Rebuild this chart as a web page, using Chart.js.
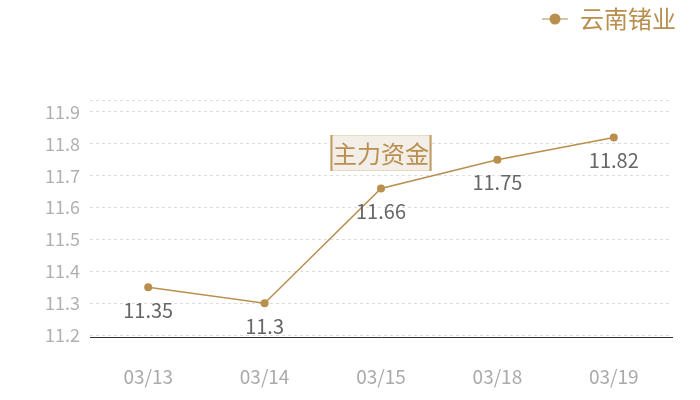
<!DOCTYPE html>
<html>
<head>
<meta charset="utf-8">
<script src="https://cdn.jsdelivr.net/npm/chart.js@4/dist/chart.umd.min.js"></script>
<style>
  html, body { margin: 0; padding: 0; background: #fff; }
  #wrap { width: 700px; height: 400px; position: relative; }
</style>
</head>
<body>
<div id="wrap"><canvas id="fundChart"></canvas></div>
<script>
// Chart data
const categories = ['03/13', '03/14', '03/15', '03/18', '03/19'];
const stockValues = [11.35, 11.3, 11.66, 11.75, 11.82];
const yTickValues = [11.2, 11.3, 11.4, 11.5, 11.6, 11.7, 11.8, 11.9];
const seriesName = '云南锗业';
const chartTitle = '主力资金';

const gold = '#b98f4e';
const fontFamily = '"Noto Sans CJK SC", "Noto Sans", sans-serif';

/**
 * Legend marker: short line with a dot in the middle
 */
function makeLegendMarker() {
    const c = document.createElement('canvas');
    c.width = 26;
    c.height = 14;
    const g = c.getContext('2d');
    g.strokeStyle = '#cdb084';
    g.lineWidth = 1.5;
    g.beginPath();
    g.moveTo(0, 7);
    g.lineTo(26, 7);
    g.stroke();
    g.fillStyle = gold;
    g.beginPath();
    g.arc(13, 7, 5.5, 0, Math.PI * 2);
    g.fill();
    return c;
}

/**
 * Leave an empty band under the legend and push it to the right edge
 */
const legendGap = {
    id: 'legendGap',
    beforeInit(chart) {
        const fit = chart.legend.fit;
        chart.legend.fit = function() {
            fit.call(this);
            this.height += 60;
        };
    },
    afterLayout(chart) {
        chart.legend.left += 10;
        chart.legend.right += 10;
        chart.legend.top += 1;
    }
};

/**
 * Value labels under each point
 */
const valueLabels = {
    id: 'valueLabels',
    afterDatasetsDraw(chart) {
        const ctx = chart.ctx;
        const meta = chart.getDatasetMeta(0);
        ctx.save();
        ctx.font = '20px ' + fontFamily;
        ctx.fillStyle = '#666';
        ctx.textAlign = 'center';
        ctx.textBaseline = 'middle';
        meta.data.forEach((pt, i) => {
            ctx.fillText(String(stockValues[i]), pt.x, pt.y + 23);
        });
        ctx.restore();
    }
};

/**
 * Boxed title in the plot area
 */
const boxTitle = {
    id: 'boxTitle',
    beforeDatasetsDraw(chart) {
        const ctx = chart.ctx;
        const area = chart.chartArea;
        const cx = (area.left + area.right) / 2;
        const top = area.top + 35;
        const w = 101, h = 36;
        const left = cx - w / 2;
        ctx.save();
        ctx.fillStyle = '#f3eee8';
        ctx.fillRect(left, top, w, h);
        ctx.strokeStyle = '#e6d9c6';
        ctx.lineWidth = 1;
        ctx.strokeRect(left + 0.5, top + 0.5, w - 1, h - 1);
        ctx.fillStyle = '#c19d62';
        ctx.fillRect(left, top, 2, h);
        ctx.fillRect(left + w - 2, top, 2, h);
        ctx.font = '24px ' + fontFamily;
        ctx.fillStyle = gold;
        ctx.textAlign = 'center';
        ctx.textBaseline = 'middle';
        ctx.fillText(chartTitle, cx, top + h / 2 + 1);
        ctx.restore();
    }
};

const yMin = 11.194;
const yMax = 11.9375;

new Chart(document.getElementById('fundChart'), {
    type: 'line',
    data: {
        labels: categories,
        datasets: [{
            label: seriesName,
            data: stockValues,
            borderColor: gold,
            backgroundColor: gold,
            borderWidth: 1.5,
            pointRadius: 4,
            pointHoverRadius: 4,
            pointBackgroundColor: gold,
            pointBorderWidth: 0,
            tension: 0
        }]
    },
    options: {
        responsive: true,
        maintainAspectRatio: false,
        animation: false,
        layout: {
            padding: { top: 0, right: 28, bottom: 0, left: 0 }
        },
        plugins: {
            legend: {
                position: 'top',
                align: 'end',
                labels: {
                    usePointStyle: true,
                    pointStyleWidth: 26,
                    padding: 6,
                    color: gold,
                    font: { family: fontFamily, size: 24 },
                    generateLabels: function(chart) {
                        return [{
                            text: seriesName,
                            fontColor: gold,
                            pointStyle: makeLegendMarker(),
                            strokeStyle: gold,
                            fillStyle: gold,
                            lineWidth: 0,
                            datasetIndex: 0
                        }];
                    }
                }
            },
            tooltip: { enabled: false }
        },
        scales: {
            x: {
                offset: true,
                grid: { display: false },
                border: { display: true, color: '#333', width: 1 },
                ticks: {
                    color: '#aaa',
                    padding: 20,
                    font: { family: fontFamily, size: 19 }
                },
                afterFit: function(scale) {
                    scale.height = 63;
                }
            },
            y: {
                min: yMin,
                max: yMax,
                grid: {
                    color: '#ddd',
                    drawTicks: false
                },
                border: { display: false, dash: [3, 3] },
                ticks: {
                    color: '#b0b0b0',
                    padding: 10,
                    font: { family: fontFamily, size: 18 },
                    callback: function(value) {
                        return yTickValues.some(v => Math.abs(v - value) < 1e-6) ? value.toFixed(1) : '';
                    }
                },
                afterBuildTicks: function(scale) {
                    scale.ticks = yTickValues.map(v => ({ value: v })).concat([{ value: yMax }]);
                },
                afterFit: function(scale) {
                    scale.width = 90;
                }
            }
        }
    },
    plugins: [legendGap, boxTitle, valueLabels]
});
</script>
</body>
</html>
